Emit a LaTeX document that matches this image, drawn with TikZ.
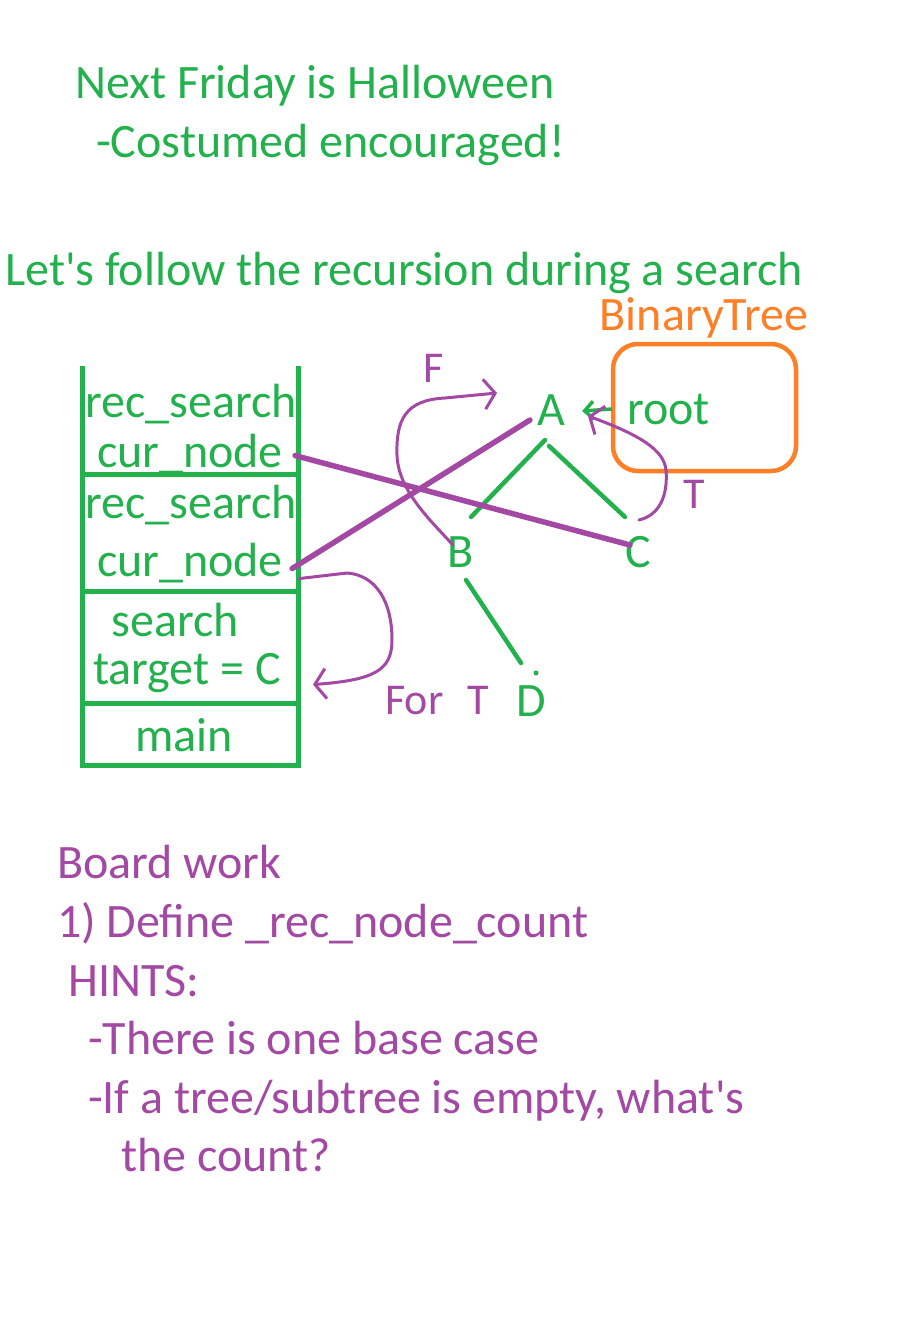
\documentclass[tikz,border=0pt]{standalone}
\usepackage{fontspec}
\setmainfont{Carlito}
\usetikzlibrary{arrows.meta,calc}
\definecolor{boardgreen}{RGB}{34,177,76}
\definecolor{boardorange}{RGB}{255,127,39}
\definecolor{boardpurple}{RGB}{163,73,164}

\begin{document}
\begin{tikzpicture}[x=1pt, y=-1pt,
    big/.style={font=\fontsize{48}{56}\selectfont, inner sep=0pt},
    note/.style={big, boardgreen, anchor=base west},
    hint/.style={big, boardpurple, anchor=base west},
    framelabel/.style={big, boardgreen, anchor=base},
    treenode/.style={big, boardgreen},
    stackline/.style={boardgreen, line width=5pt},
    edge/.style={boardgreen, line width=4.5pt, line cap=round},
    pointer/.style={boardpurple, line width=5.5pt, line cap=round},
    pen/.style={boardpurple, line width=3pt, line cap=round, line join=round,
        -{Straight Barb[length=11pt, width=30pt]}},
    scrawl/.style={boardpurple, font=\fontsize{44}{50}\selectfont, inner sep=0pt}]
  \useasboundingbox (0,0) rectangle (923,1328);

  % Announcements
  \node[note] (fri) at (75,98) {Next Friday is Halloween};
  \node[note] (cost) at (96,157) {-Costumed encouraged!};
  \node[note] (follow) at (5,285) {Let\textquotesingle s follow the recursion during a search};

  % Call stack
  \draw[stackline] (82,366) -- (82,765) -- (298,765) -- (298,366);
  \foreach \y in {474, 591, 703}
    \draw[stackline] (80,\y) -- (300,\y);
  \node[framelabel] (rec1) at (191,417) {rec\_search};
  \node[framelabel] (cur1) at (190,467) {cur\_node};
  \node[framelabel] (rec2) at (191,518) {rec\_search};
  \node[framelabel] (cur2) at (190,576) {cur\_node};
  \node[framelabel] (search) at (175,636) {search};
  \node[framelabel] (target) at (187,684) {target = C};
  \node[framelabel] (main) at (184,751) {main};

  % The tree
  \node[treenode, anchor=base, text=boardorange] (bt) at (704,330) {BinaryTree};
  \node[draw=boardorange, line width=4.5pt, rounded corners=25pt,
        minimum width=183pt, minimum height=127pt] (tree) at (704.5,407.5) {};
  \node[treenode, anchor=base west] (root) at (627,424) {root};
  \node[treenode] (A) at (551,410) {A};
  \node[treenode] (B) at (461,552) {B};
  \node[treenode] (C) at (638,552) {C};
  \node[treenode] (D) at (531,701) {D};
  \draw[edge] ($(A)+(-6,30)$) -- ($(B)+(10,-35)$);
  \draw[edge] ($(A)+(-2,36)$) -- ($(C)+(-13,-35)$);
  \draw[edge] ($(B)+(5,28)$) -- ($(D)+(-10,-38)$);
  \fill[boardgreen] ($(D)+(5,-28)$) circle (2.5pt);
  \draw[boardgreen, line width=3.5pt, -{Straight Barb[length=9pt, width=18pt]}]
    ($(root.west)+(-15,0)$) -- ($(A.east)+(17,1)$);

  % cur_node pointers
  \draw[pointer] ($(cur1.east)+(12,2)$) -- ($(C)+(-8,-7)$);
  \draw[pointer] ($(cur2.east)+(9,6)$) -- ($(A)+(-21,10)$);

  % Handwritten trace
  \draw[pen] ($(B)+(-8,-7)$) .. controls (430,520) and (398,490) .. (397,455)
    .. controls (396,420) and (405,400) .. (445,398) -- ($(A)+(-54,-17)$);
  \node[scrawl] (F) at (434,368) {F};
  \draw[pen] ($(C)+(1,-32)$) .. controls (660,515) and (668,495) .. (666,470)
    .. controls (664,450) and (640,435) .. ($(A)+(37,6)$);
  \node[scrawl] (T) at (694,494) {T};
  \draw[pen] ($(cur2.east)+(16,16)$) -- (347,573) .. controls (375,575) and (392,600) .. (392,640)
    .. controls (392,670) and (375,680) .. ($(target.east)+(32,12)$);
  \node[scrawl, anchor=base west] (forT) at (385,714) {For\hspace{0.55em}T};

  % Board work
  \node[hint] (board) at (57,878) {Board work};
  \node[hint] (def) at (57,937) {1) Define \_rec\_node\_count};
  \node[hint] (hints) at (68,996) {HINTS:};
  \node[hint] (base) at (88,1054) {-There is one base case};
  \node[hint] (empty) at (88,1113) {-If a tree/subtree is empty, what\textquotesingle s};
  \node[hint] (count) at (121,1171) {the count?};
\end{tikzpicture}
\end{document}
